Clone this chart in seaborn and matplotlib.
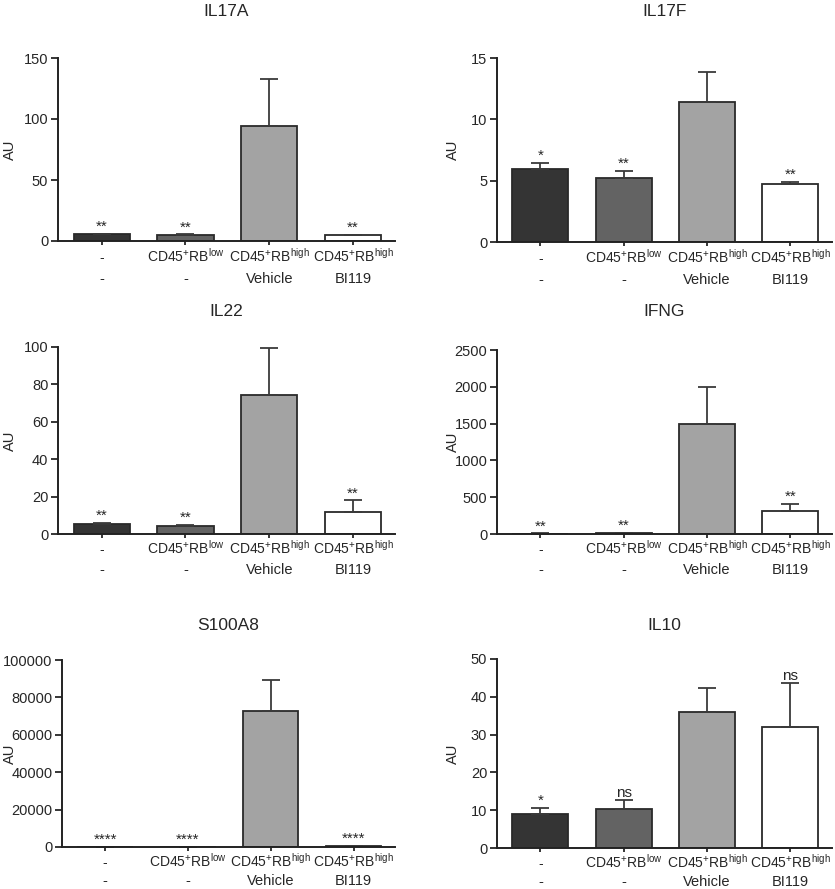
import seaborn as sns
import matplotlib.pyplot as plt
import matplotlib.transforms as mtransforms
import pandas as pd
import numpy as np

groups = ["g1", "g2", "g3", "g4"]
row1_labels = ["-", r"CD45$^{\mathrm{+}}$RB$^{\mathrm{low}}$",
               r"CD45$^{\mathrm{+}}$RB$^{\mathrm{high}}$", r"CD45$^{\mathrm{+}}$RB$^{\mathrm{high}}$"]
row2_labels = ["-", "-", "Vehicle", "BI119"]
bar_colors = ["#343434", "#636363", "#a3a3a3", "#ffffff"]

titles = ["IL17A", "IL17F", "IL22", "IFNG", "S100A8", "IL10"]

il17a_mean = [5.4, 5.0, 94.3, 5.0]
il17a_err = [0.5, 0.4, 38.5, 0.3]
il17a_sig = ["**", "**", "", "**"]

il17f_mean = [5.97, 5.25, 11.4, 4.72]
il17f_err = [0.45, 0.55, 2.47, 0.19]
il17f_sig = ["*", "**", "", "**"]

il22_mean = [5.6, 4.3, 74.5, 11.5]
il22_err = [0.4, 0.6, 25.0, 6.5]
il22_sig = ["**", "**", "", "**"]

ifng_mean = [5, 10, 1492, 310]
ifng_err = [2, 3, 512, 100]
ifng_sig = ["**", "**", "", "**"]

s100a8_mean = [100, 120, 72700, 500]
s100a8_err = [50, 60, 16700, 150]
s100a8_sig = ["****", "****", "", "****"]

il10_mean = [9.1, 10.2, 36.1, 31.9]
il10_err = [1.5, 2.5, 6.3, 11.8]
il10_sig = ["*", "ns", "", "ns"]

means = [il17a_mean, il17f_mean, il22_mean, ifng_mean, s100a8_mean, il10_mean]
errs = [il17a_err, il17f_err, il22_err, ifng_err, s100a8_err, il10_err]
sigs = [il17a_sig, il17f_sig, il22_sig, ifng_sig, s100a8_sig, il10_sig]
ymax = [150, 15, 100, 2500, 100000, 50]
ystep = [50, 5, 20, 500, 20000, 10]

sns.set_style("ticks")
plt.rcParams["font.family"] = ["Liberation Sans", "DejaVu Sans"]
plt.rcParams["mathtext.fontset"] = "custom"
plt.rcParams["mathtext.rm"] = "Liberation Sans"
plt.rcParams["mathtext.it"] = "Liberation Sans:italic"
plt.rcParams["mathtext.bf"] = "Liberation Sans:bold"

fig = plt.figure(figsize=(8.35, 8.89), dpi=100)
W, H = 835, 889
# pixel boxes (left, right, top, bottom) of each panel's axes
boxes = [(58, 395, 58, 241), (497, 832, 58, 242),
         (58, 395, 347, 534), (497, 832, 350, 534),
         (62, 395, 660, 847), (497, 832, 659, 848)]
title_base = [16, 16, 316, 316, 630, 630]
label_off = [(21, 42), (21, 42), (20, 40), (20, 40), (20, 38), (20, 38)]
au_off = [48, 44, 48, 44, 52, 44]

for i in range(6):
    x0, x1, yt, yb = boxes[i]
    ax = fig.add_axes([x0 / W, 1 - yb / H, (x1 - x0) / W, (yb - yt) / H])
    df = pd.DataFrame({"group": groups, "value": means[i]})
    sns.barplot(data=df, x="group", y="value", hue="group", palette=bar_colors,
                errorbar=None, width=0.67, legend=False, ax=ax,
                edgecolor="#2a2a2a", linewidth=1.3)
    xs = np.arange(4)
    ax.errorbar(xs, means[i], yerr=[np.zeros(4), errs[i]], fmt="none",
                ecolor="#3a3a3a", elinewidth=1.3, capsize=6.5, capthick=1.3)
    for k in range(4):
        if sigs[i][k]:
            top = means[i][k] + errs[i][k]
            ax.annotate(sigs[i][k], (xs[k], top), xytext=(0, 0),
                        textcoords="offset points", ha="center", va="bottom",
                        fontsize=11)
    ax.set_xlim(-0.52, 3.5)
    ax.set_ylim(0, ymax[i])
    ax.set_yticks(np.arange(0, ymax[i] + 1, ystep[i]))
    ax.set_xticks(xs)
    ax.set_xticklabels([])
    t1 = mtransforms.offset_copy(ax.get_xaxis_transform(), fig=fig, y=-label_off[i][0], units="dots")
    t2 = mtransforms.offset_copy(ax.get_xaxis_transform(), fig=fig, y=-label_off[i][1], units="dots")
    for k in range(4):
        ax.text(xs[k], 0, row1_labels[k], ha="center", va="baseline",
                fontsize=10, transform=t1)
        ax.text(xs[k], 0, row2_labels[k], ha="center", va="baseline",
                fontsize=10.5, transform=t2)
    ax.set_xlabel("")
    ax.set_ylabel("")
    fig.text((x0 - au_off[i]) / W, 1 - (yt + yb) / 2 / H, "AU", rotation=90,
             ha="center", va="center", fontsize=10.5)
    fig.text((x0 + x1) / 2 / W, 1 - title_base[i] / H, titles[i],
             ha="center", va="baseline", fontsize=12.5)
    sns.despine(ax=ax)
    for sp in ["left", "bottom"]:
        ax.spines[sp].set_linewidth(1.4)
        ax.spines[sp].set_color("#222222")
    ax.tick_params(axis="y", length=5, width=1.3, labelsize=10.5, pad=2)
    ax.tick_params(axis="x", length=3, width=1.3)

plt.savefig("out.png", dpi=100)
